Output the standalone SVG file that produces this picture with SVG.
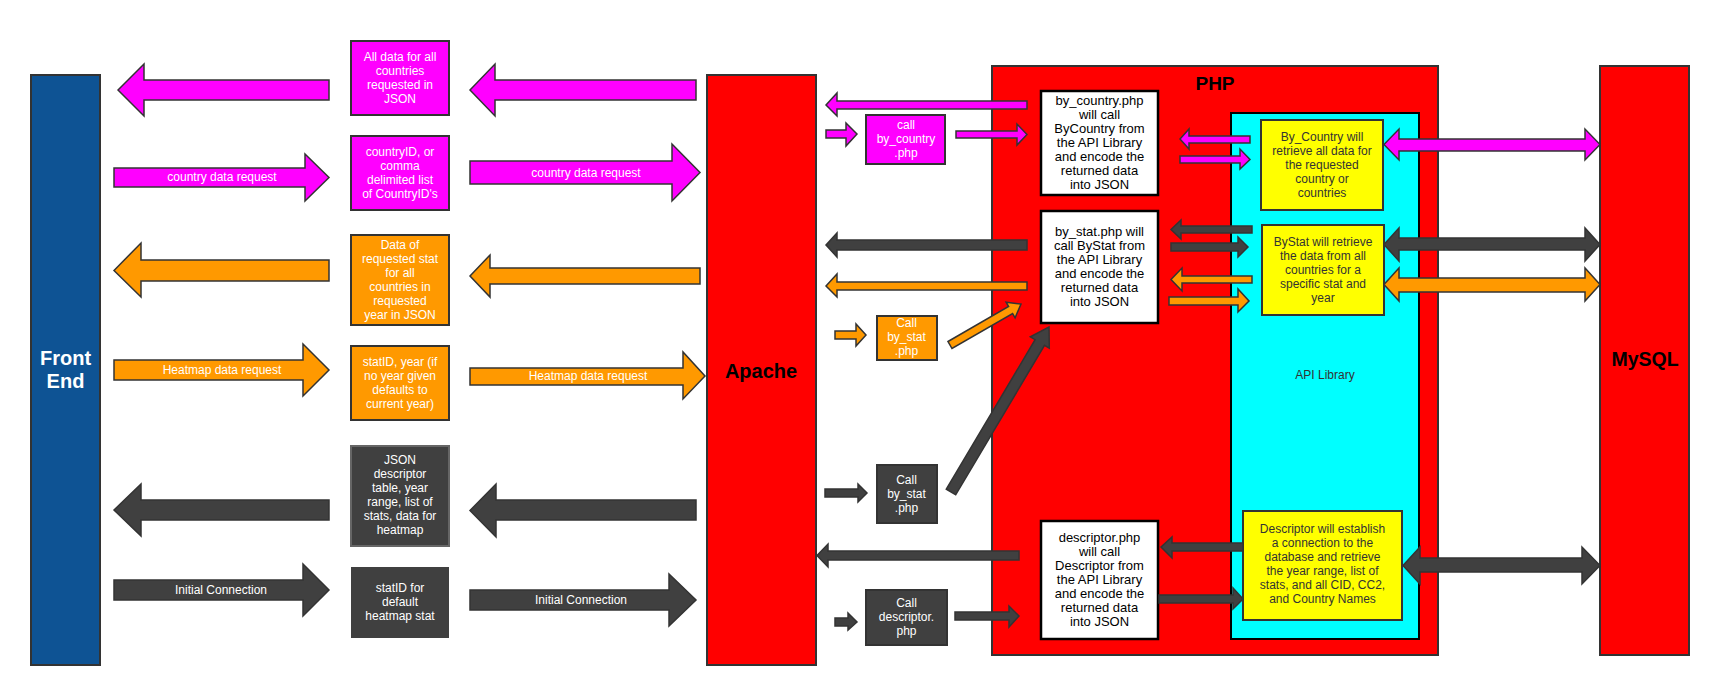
<svg xmlns="http://www.w3.org/2000/svg" width="1716" height="685" viewBox="0 0 1716 685">
<style>
.t{font-family:"Liberation Sans",Arial,sans-serif;text-anchor:middle}
.w{fill:#fff;font-size:12px}
.k{fill:#000;font-size:13px}
.y{fill:#333;font-size:12px}
.big{font-weight:bold}
.bx{stroke:#333;stroke-width:2}
.mag{fill:#ff00ff}
.org{fill:#ff9900}
.drk{fill:#404040}
.ar{stroke:#333;stroke-width:1.5;stroke-linejoin:miter}
</style>
<rect width="1716" height="685" fill="#fff"/>

<g id="front-end">
<rect x="31" y="75" width="69" height="590" fill="#0e5394" class="bx"/>
<text class="t big" fill="#fff" font-size="20"><tspan x="65.5" y="365">Front</tspan><tspan x="65.5" y="388">End</tspan></text>
</g>

<g id="apache">
<rect x="707" y="75" width="109" height="590" fill="#ff0000" class="bx"/>
<text class="t big" fill="#000" font-size="20" x="761" y="378">Apache</text>
</g>

<g id="php">
<rect x="992" y="66" width="446" height="589" fill="#ff0000" class="bx"/>
<text class="t big" fill="#000" font-size="19" x="1215" y="90">PHP</text>
</g>

<g id="api-library">
<rect x="1231" y="113" width="188" height="526" fill="#00ffff" stroke="#000" stroke-width="2"/>
<text class="t y" x="1325" y="379">API Library</text>
</g>

<g id="mysql">
<rect x="1600" y="66" width="89" height="589" fill="#ff0000" class="bx"/>
<text class="t big" fill="#000" font-size="19.5" x="1645" y="366">MySQL</text>
</g>

<g id="all-data-json">
<rect x="351" y="41" width="98" height="74" class="mag bx"/>
<text class="t w"><tspan x="400" y="61">All data for all</tspan><tspan x="400" y="75">countries</tspan><tspan x="400" y="89">requested in</tspan><tspan x="400" y="103">JSON</tspan></text>
</g>

<g id="country-ids">
<rect x="351" y="136" width="98" height="74" class="mag bx"/>
<text class="t w"><tspan x="400" y="156">countryID, or</tspan><tspan x="400" y="170">comma</tspan><tspan x="400" y="184">delimited list</tspan><tspan x="400" y="198">of CountryID's</tspan></text>
</g>

<g id="stat-data-json">
<rect x="351" y="235" width="98" height="90" class="org bx"/>
<text class="t w"><tspan x="400" y="249">Data of</tspan><tspan x="400" y="263">requested stat</tspan><tspan x="400" y="277">for all</tspan><tspan x="400" y="291">countries in</tspan><tspan x="400" y="305">requested</tspan><tspan x="400" y="319">year in JSON</tspan></text>
</g>

<g id="statid-year">
<rect x="351" y="346" width="98" height="74" class="org bx"/>
<text class="t w"><tspan x="400" y="366">statID, year (if</tspan><tspan x="400" y="380">no year given</tspan><tspan x="400" y="394">defaults to</tspan><tspan x="400" y="408">current year)</tspan></text>
</g>

<g id="descriptor-json">
<rect x="351" y="446" width="98" height="100" class="drk" stroke="#666" stroke-width="2"/>
<text class="t w"><tspan x="400" y="464">JSON</tspan><tspan x="400" y="478">descriptor</tspan><tspan x="400" y="492">table, year</tspan><tspan x="400" y="506">range, list of</tspan><tspan x="400" y="520">stats, data for</tspan><tspan x="400" y="534">heatmap</tspan></text>
</g>

<g id="default-statid">
<rect x="351" y="567" width="98" height="71" class="drk"/>
<text class="t w"><tspan x="400" y="592">statID for</tspan><tspan x="400" y="606">default</tspan><tspan x="400" y="620">heatmap stat</tspan></text>
</g>

<g id="call-by-country">
<rect x="866" y="115" width="79" height="49" class="mag bx"/>
<text class="t w" font-size="13"><tspan x="906" y="129">call</tspan><tspan x="906" y="143">by_country</tspan><tspan x="906" y="157">.php</tspan></text>
</g>

<g id="call-by-stat-orange">
<rect x="877" y="316" width="60" height="44" class="org bx"/>
<text class="t w" font-size="13"><tspan x="906.5" y="327">Call</tspan><tspan x="906.5" y="341">by_stat</tspan><tspan x="906.5" y="355">.php</tspan></text>
</g>

<g id="call-by-stat-dark">
<rect x="877" y="465" width="60" height="58" class="drk bx"/>
<text class="t w" font-size="13"><tspan x="906.5" y="484">Call</tspan><tspan x="906.5" y="498">by_stat</tspan><tspan x="906.5" y="512">.php</tspan></text>
</g>

<g id="call-descriptor">
<rect x="866" y="590" width="81" height="55" class="drk bx"/>
<text class="t w" font-size="13"><tspan x="906.5" y="607">Call</tspan><tspan x="906.5" y="621">descriptor.</tspan><tspan x="906.5" y="635">php</tspan></text>
</g>

<g id="by-country-php">
<rect x="1041" y="91" width="117" height="104" fill="#fff" stroke="#000" stroke-width="2.5"/>
<text class="t k"><tspan x="1099.5" y="105">by_country.php</tspan><tspan x="1099.5" y="119">will call</tspan><tspan x="1099.5" y="133">ByCountry from</tspan><tspan x="1099.5" y="147">the API Library</tspan><tspan x="1099.5" y="161">and encode the</tspan><tspan x="1099.5" y="175">returned data</tspan><tspan x="1099.5" y="189">into JSON</tspan></text>
</g>

<g id="by-stat-php">
<rect x="1041" y="211" width="117" height="112" fill="#fff" stroke="#000" stroke-width="2.5"/>
<text class="t k"><tspan x="1099.5" y="236">by_stat.php will</tspan><tspan x="1099.5" y="250">call ByStat from</tspan><tspan x="1099.5" y="264">the API Library</tspan><tspan x="1099.5" y="278">and encode the</tspan><tspan x="1099.5" y="292">returned data</tspan><tspan x="1099.5" y="306">into JSON</tspan></text>
</g>

<g id="descriptor-php">
<rect x="1041" y="521" width="117" height="118" fill="#fff" stroke="#000" stroke-width="2.5"/>
<text class="t k"><tspan x="1099.5" y="542">descriptor.php</tspan><tspan x="1099.5" y="556">will call</tspan><tspan x="1099.5" y="570">Descriptor from</tspan><tspan x="1099.5" y="584">the API Library</tspan><tspan x="1099.5" y="598">and encode the</tspan><tspan x="1099.5" y="612">returned data</tspan><tspan x="1099.5" y="626">into JSON</tspan></text>
</g>

<g id="by-country-lib">
<rect x="1261" y="120" width="122" height="90" fill="#ffff00" class="bx"/>
<text class="t y"><tspan x="1322" y="141">By_Country will</tspan><tspan x="1322" y="155">retrieve all data for</tspan><tspan x="1322" y="169">the requested</tspan><tspan x="1322" y="183">country or</tspan><tspan x="1322" y="197">countries</tspan></text>
</g>

<g id="by-stat-lib">
<rect x="1262" y="225" width="122" height="90" fill="#ffff00" class="bx"/>
<text class="t y"><tspan x="1323" y="246">ByStat will retrieve</tspan><tspan x="1323" y="260">the data from all</tspan><tspan x="1323" y="274">countries for a</tspan><tspan x="1323" y="288">specific stat and</tspan><tspan x="1323" y="302">year</tspan></text>
</g>

<g id="descriptor-lib">
<rect x="1243" y="511" width="159" height="109" fill="#ffff00" class="bx"/>
<text class="t y"><tspan x="1322.5" y="533">Descriptor will establish</tspan><tspan x="1322.5" y="547">a connection to the</tspan><tspan x="1322.5" y="561">database and retrieve</tspan><tspan x="1322.5" y="575">the year range, list of</tspan><tspan x="1322.5" y="589">stats, and all CID, CC2,</tspan><tspan x="1322.5" y="603">and Country Names</tspan></text>
</g>

<g id="connectors" class="ar">
<!-- Front End <-> request boxes -->
<polygon class="mag ar" points="118,90 144,64 144,80 329,80 329,100 144,100 144,116"/>
<polygon class="mag ar" points="114,168 305,168 305,154 329,177.5 305,201 305,187 114,187"/>
<polygon class="org ar" points="114,270.5 141,243 141,260 329,260 329,281 141,281 141,297"/>
<polygon class="org ar" points="114,360 303,360 303,344 329,370 303,396 303,380 114,380"/>
<polygon class="drk ar" points="114,510 141,484 141,500 329,500 329,520 141,520 141,536"/>
<polygon class="drk ar" points="114,580 303,580 303,564 329,590 303,616 303,600 114,600"/>
<!-- request boxes <-> Apache -->
<polygon class="mag ar" points="470,90 495,64 495,80 696,80 696,100 495,100 495,116"/>
<polygon class="mag ar" points="470,161 672,161 672,144 700,172.5 672,201 672,184 470,184"/>
<polygon class="org ar" points="470,276 490,255 490,268 700,268 700,284 490,284 490,297"/>
<polygon class="org ar" points="470,368 683,368 683,352 705,376 683,399 683,385 470,385"/>
<polygon class="drk ar" points="470,510.5 496,484 496,500 696,500 696,520 496,520 496,537"/>
<polygon class="drk ar" points="470,590 669,590 669,574 696,600 669,626 669,610 470,610"/>
<!-- Apache <-> PHP -->
<polygon class="mag ar" points="826,105 837,93 837,101 1027,101 1027,109 837,109 837,116"/>
<polygon class="mag ar" points="826,130 846,130 846,123 857,134 846,146 846,138 826,138"/>
<polygon class="mag ar" points="956,131 1017,131 1017,124 1027,134.5 1017,145 1017,138 956,138"/>
<polygon class="drk ar" points="826,245 837,233 837,240 1027,240 1027,250 837,250 837,257"/>
<polygon class="org ar" points="826,286 837,274 837,282 1027,282 1027,290 837,290 837,297"/>
<polygon class="org ar" points="835,331 856,331 856,324 866,335 856,346 856,339 835,339"/>
<polygon class="org ar" points="948,341.5 1008.6,306.5 1006.1,302.2 1021,304 1015.1,317.8 1012.6,313.5 952,348.5"/>
<polygon class="drk ar" points="825,489 858,489 858,484 867,493 858,502 858,497 825,497"/>
<polygon class="drk ar" points="946.3,489.2 1035.1,339.7 1030.3,336.9 1049,327 1049.3,348.1 1044.5,345.3 955.7,494.8"/>
<polygon class="drk ar" points="817,555.5 828,544 828,551 1019,551 1019,560 828,560 828,567"/>
<polygon class="drk ar" points="835,618 848,618 848,613 857,622 848,630 848,626 835,626"/>
<polygon class="drk ar" points="955,612 1009,612 1009,606 1019,616 1009,627 1009,620 955,620"/>
<!-- PHP scripts <-> API Library -->
<polygon class="mag ar" points="1180,139 1189,129 1189,136 1250,136 1250,143 1189,143 1189,149"/>
<polygon class="mag ar" points="1180,156 1240,156 1240,149 1250,159.5 1240,169 1240,163 1180,163"/>
<polygon class="drk ar" points="1171,229.5 1181,220 1181,226 1252,226 1252,233 1181,233 1181,239"/>
<polygon class="drk ar" points="1171,243 1238,243 1238,237 1248,247 1238,257 1238,251 1171,251"/>
<polygon class="org ar" points="1171,279.5 1182,268 1182,276 1252,276 1252,283 1182,283 1182,291"/>
<polygon class="org ar" points="1169,297 1238,297 1238,289 1249,301 1238,312 1238,305 1169,305"/>
<polygon class="drk ar" points="1161,547 1172,537 1172,543 1243,543 1243,551 1172,551 1172,558"/>
<polygon class="drk ar" points="1159,595 1233,595 1233,588 1243,599 1233,609 1233,603 1159,603"/>
<!-- API Library <-> MySQL -->
<polygon class="mag ar" points="1384,144.5 1399,129 1399,139 1585,139 1585,129 1600,144.5 1585,160 1585,151 1399,151 1399,160"/>
<polygon class="drk ar" points="1384,244.5 1399,228 1399,238 1585,238 1585,228 1600,244.5 1585,261 1585,250 1399,250 1399,261"/>
<polygon class="org ar" points="1384,284.5 1399,268 1399,278 1585,278 1585,268 1600,284.5 1585,301 1585,292 1399,292 1399,301"/>
<polygon class="drk ar" points="1403,565.5 1420,547 1420,558 1582,558 1582,547 1600,565.5 1582,584 1582,572 1420,572 1420,584"/>
</g>

<g id="connector-labels" class="t w">
<text x="222" y="181">country data request</text>
<text x="586" y="177">country data request</text>
<text x="222" y="374">Heatmap data request</text>
<text x="588" y="380">Heatmap data request</text>
<text x="221" y="594">Initial Connection</text>
<text x="581" y="604">Initial Connection</text>
</g>
</svg>
